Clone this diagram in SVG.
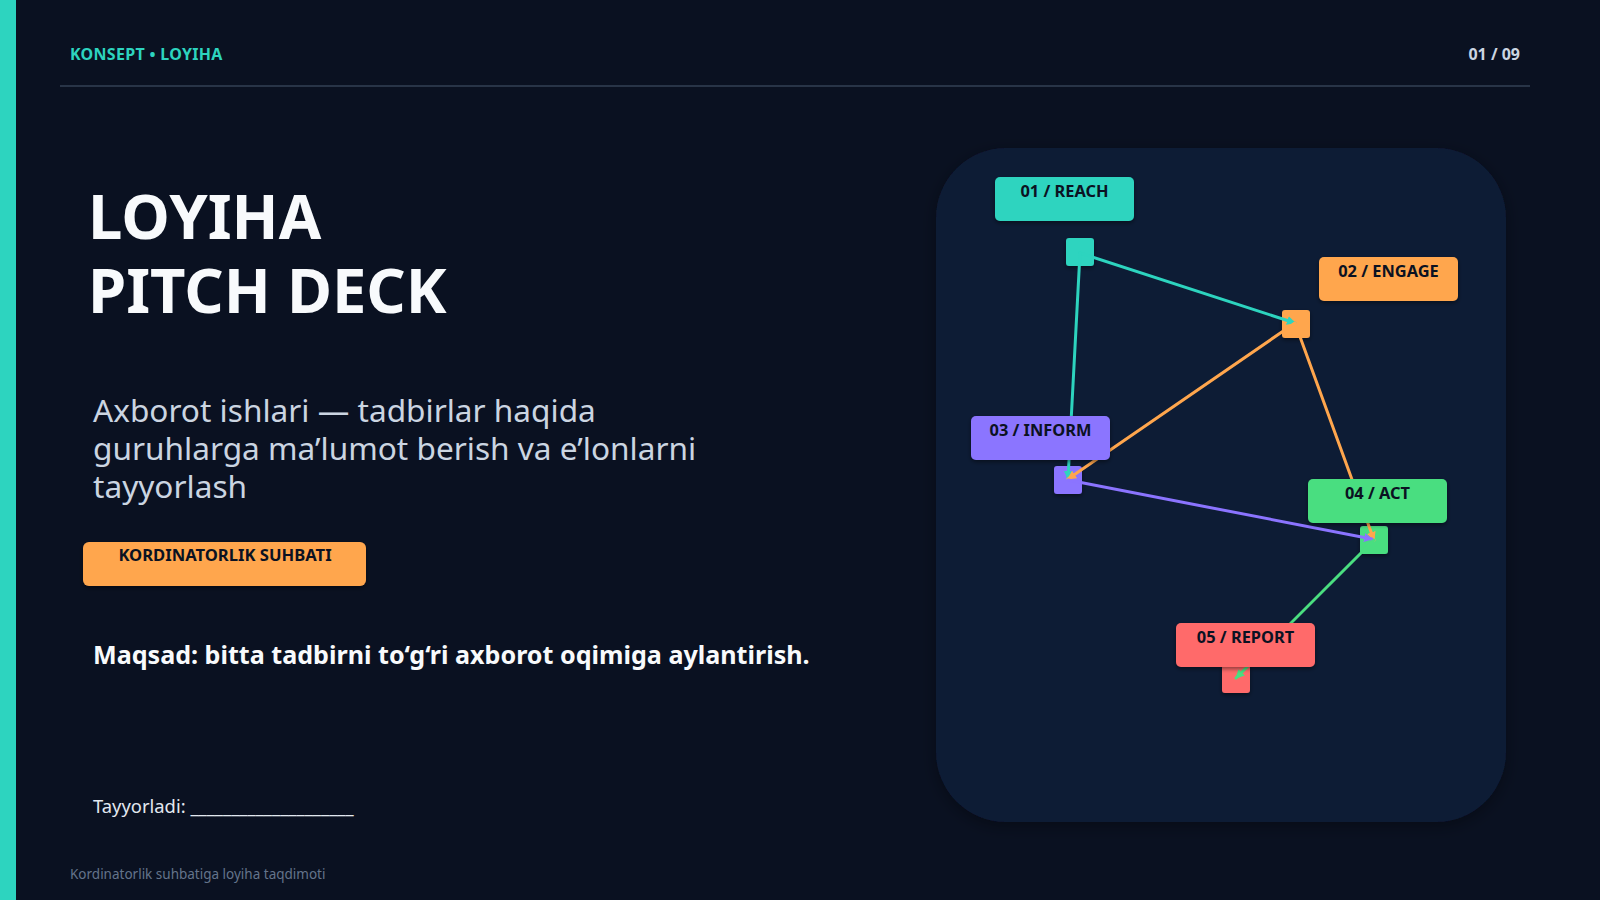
<svg xmlns="http://www.w3.org/2000/svg" width="1600" height="900" viewBox="0 0 1600 900">
  <style>
    .sans { font-family: "Noto Sans", "Open Sans", "Liberation Sans", sans-serif; }
    .lbl { font-family: "Noto Sans", "Open Sans", "Liberation Sans", sans-serif; font-weight: 700; font-size: 16.4px; fill: #0b1222; text-anchor: middle; }
    .box { filter: url(#shadow); }
    .edge { fill: none; stroke-width: 3; stroke-linecap: round; }
  </style>
  <defs>
    <filter id="shadow" x="-20%" y="-20%" width="140%" height="160%">
      <feDropShadow dx="0" dy="2" stdDeviation="2" flood-color="#000000" flood-opacity="0.45"/>
    </filter>
    <filter id="panelShadow" x="-10%" y="-10%" width="120%" height="120%">
      <feDropShadow dx="0" dy="4" stdDeviation="8" flood-color="#000000" flood-opacity="0.35"/>
    </filter>
    <marker id="arTeal" markerUnits="userSpaceOnUse" markerWidth="9" markerHeight="9" refX="8" refY="4.5" orient="auto"><path d="M0,0 L9,4.5 L0,9 z" fill="#2dd4bf"/></marker>
    <marker id="arOrange" markerUnits="userSpaceOnUse" markerWidth="9" markerHeight="9" refX="8" refY="4.5" orient="auto"><path d="M0,0 L9,4.5 L0,9 z" fill="#ffa64d"/></marker>
    <marker id="arPurple" markerUnits="userSpaceOnUse" markerWidth="9" markerHeight="9" refX="8" refY="4.5" orient="auto"><path d="M0,0 L9,4.5 L0,9 z" fill="#8b74ff"/></marker>
    <marker id="arGreen" markerUnits="userSpaceOnUse" markerWidth="9" markerHeight="9" refX="8" refY="4.5" orient="auto"><path d="M0,0 L9,4.5 L0,9 z" fill="#4ade80"/></marker>
  </defs>

  <!-- background -->
  <rect x="0" y="0" width="1600" height="900" fill="#0a1121"/>
  <rect x="0" y="0" width="16" height="900" fill="#2dd4bf"/>

  <!-- header -->
  <text class="sans" x="70" y="60" font-size="16" font-weight="700" fill="#2dd4bf" letter-spacing="0.3">KONSEPT • LOYIHA</text>
  <text class="sans" x="1520" y="60" font-size="16" font-weight="700" fill="#cbd5e1" text-anchor="end">01 / 09</text>
  <line x1="60" y1="86" x2="1530" y2="86" stroke="#334155" stroke-width="1.5"/>

  <!-- title -->
  <text class="sans" x="88" y="239" font-size="61.5" font-weight="700" fill="#f8fafc">LOYIHA</text>
  <text class="sans" x="88" y="313" font-size="61.5" font-weight="700" fill="#f8fafc">PITCH DECK</text>

  <!-- subtitle -->
  <text class="sans" font-size="31.6" fill="#cbd5e1">
    <tspan x="93" y="422">Axborot ishlari — tadbirlar haqida</tspan>
    <tspan x="93" y="460">guruhlarga ma’lumot berish va e’lonlarni</tspan>
    <tspan x="93" y="498">tayyorlash</tspan>
  </text>

  <!-- pill -->
  <g id="pill">
    <rect x="83" y="542" width="283" height="44" rx="6" fill="#ffa64d" class="box"/>
    <text class="lbl" x="225" y="561" style="font-size:16.6px">KORDINATORLIK SUHBATI</text>
  </g>

  <text class="sans" x="93" y="664" font-size="25.1" font-weight="700" fill="#f8fafc">Maqsad: bitta tadbirni to‘g‘ri axborot oqimiga aylantirish.</text>

  <text class="sans" x="93" y="813" font-size="18.4" fill="#e2e8f0">Tayyorladi: ____________________</text>
  <text class="sans" x="70" y="879" font-size="13.5" fill="#64748b">Kordinatorlik suhbatiga loyiha taqdimoti</text>

  <!-- panel -->
  <rect x="936" y="148" width="570" height="674" rx="70" fill="#0f1b35" filter="url(#panelShadow)"/>

  <!-- node squares -->
  <g id="n1-anchor"><rect x="1066" y="238" width="28" height="28" rx="3" fill="#2dd4bf" class="box"/></g>
  <g id="n2-anchor"><rect x="1282" y="310" width="28" height="28" rx="3" fill="#ffa64d" class="box"/></g>
  <g id="n3-anchor"><rect x="1054" y="466" width="28" height="28" rx="3" fill="#8b74ff" class="box"/></g>
  <g id="n4-anchor"><rect x="1360" y="526" width="28" height="28" rx="3" fill="#4ade80" class="box"/></g>
  <g id="n5-anchor"><rect x="1222" y="665" width="28" height="28" rx="3" fill="#ff6b6b" class="box"/></g>

  <!-- connectors -->
  <g id="connectors">
    <line class="edge" x1="1080" y1="253" x2="1295" y2="323" stroke="#2dd4bf" marker-end="url(#arTeal)"/>
    <line class="edge" x1="1080" y1="253" x2="1068" y2="479" stroke="#2dd4bf" stroke-width="2.5" marker-end="url(#arTeal)"/>
    <line class="edge" x1="1295" y1="323" x2="1068" y2="479" stroke="#ffa64d" marker-end="url(#arOrange)"/>
    <line class="edge" x1="1295" y1="323" x2="1374" y2="540" stroke="#ffa64d" marker-end="url(#arOrange)"/>
    <line class="edge" x1="1068" y1="480" x2="1372" y2="539" stroke="#8b74ff" marker-end="url(#arPurple)"/>
    <line class="edge" x1="1374" y1="540" x2="1236" y2="678" stroke="#4ade80" marker-end="url(#arGreen)"/>
  </g>

  <!-- node labels -->
  <g id="n1">
    <rect x="995" y="177" width="139" height="44" rx="5" fill="#2dd4bf" class="box"/>
    <text class="lbl" x="1064.5" y="197">01 / REACH</text>
  </g>
  <g id="n2">
    <rect x="1319" y="257" width="139" height="44" rx="5" fill="#ffa64d" class="box"/>
    <text class="lbl" x="1388.5" y="277">02 / ENGAGE</text>
  </g>
  <g id="n3">
    <rect x="971" y="416" width="139" height="44" rx="5" fill="#8b74ff" class="box"/>
    <text class="lbl" x="1040.5" y="436">03 / INFORM</text>
  </g>
  <g id="n4">
    <rect x="1308" y="479" width="139" height="44" rx="5" fill="#4ade80" class="box"/>
    <text class="lbl" x="1377.5" y="499">04 / ACT</text>
  </g>
  <g id="n5">
    <rect x="1176" y="623" width="139" height="44" rx="5" fill="#ff6b6b" class="box"/>
    <text class="lbl" x="1245.5" y="643">05 / REPORT</text>
  </g>
</svg>
